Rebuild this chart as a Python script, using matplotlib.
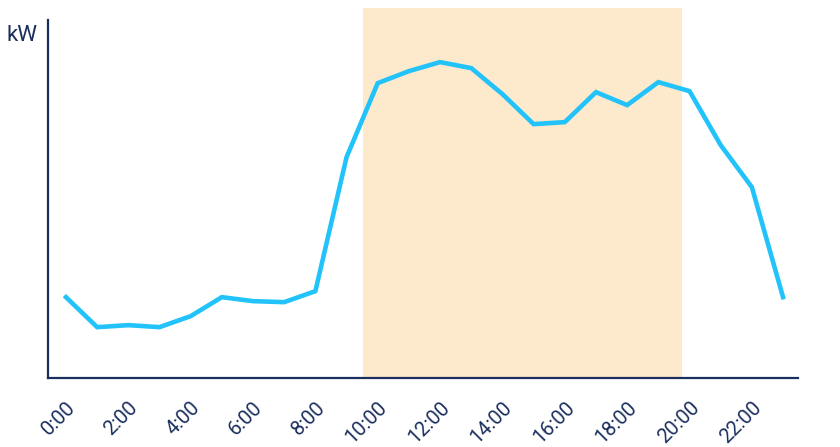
import matplotlib
matplotlib.use("Agg")
import matplotlib.pyplot as plt

hours = list(range(24))
load_kw = [81, 51, 53, 51, 62, 81, 77, 76, 87, 221, 295, 307, 316, 310, 284, 254, 256, 286, 273, 296, 287, 233, 191, 81]
tick_hours = list(range(0, 24, 2))
tick_labels = [f"{h}:00" for h in tick_hours]
shade_start, shade_end = 9.53, 19.76

NAVY = "#1b2f5e"
LINE = "#22c3fb"
SHADE = "#fde9cc"

plt.rcParams["font.family"] = ["Roboto", "DejaVu Sans"]

fig = plt.figure(figsize=(8.4, 4.47), dpi=100)
ax = fig.add_axes([0.057, 0.154, 0.893, 0.801])

ax.axvspan(shade_start, shade_end, ymin=0, ymax=1.034, color=SHADE, lw=0, clip_on=False, zorder=0)
ax.plot(hours, load_kw, color=LINE, lw=3.3, solid_joinstyle="miter", zorder=3)

ax.set_xlim(-0.58, 23.48)
ax.set_ylim(0, 358)
ax.set_xticks(tick_hours)
ax.set_xticklabels(tick_labels, rotation=45, ha="right", rotation_mode="anchor",
                   fontsize=14.5, color=NAVY)
ax.tick_params(axis="x", length=0, pad=14)
ax.set_yticks([])

for side in ["top", "right"]:
    ax.spines[side].set_visible(False)
for side in ["left", "bottom"]:
    ax.spines[side].set_color(NAVY)
    ax.spines[side].set_linewidth(1.6)

fig.text(0.008, 0.92, "kW", fontsize=16, color=NAVY, ha="left", va="center")

fig.savefig("out.png", dpi=100)
